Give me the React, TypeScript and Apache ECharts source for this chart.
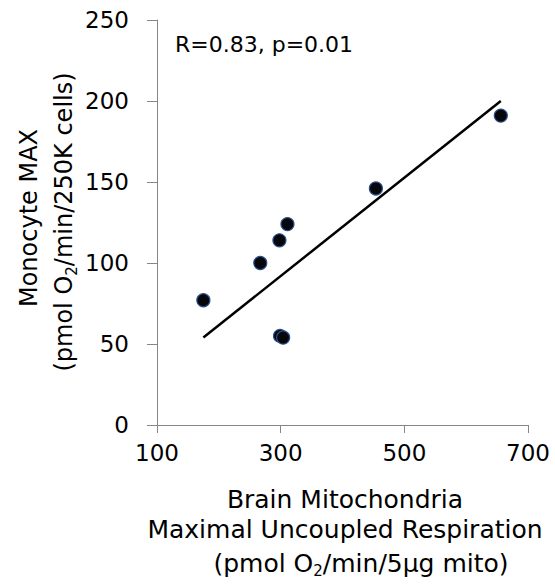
import React, { useEffect, useRef } from "react";
import * as echarts from "echarts";

const brainMax = [175, 267, 298, 311, 299, 304, 454, 656];
const monocyteMax = [77, 100, 114, 124, 55, 54, 146, 191];
const trendX = [175, 656];
const trendY = [54, 200];
const xTicks = { min: 100, max: 700, interval: 200 };
const yTicks = { min: 0, max: 250, interval: 50 };
const annotation = "R=0.83, p=0.01";
const yTitle1 = "Monocyte MAX";
const yTitle2 = ["(pmol O", "2", "/min/250K cells)"];
const xTitle1 = "Brain Mitochondria";
const xTitle2 = "Maximal Uncoupled Respiration";
const xTitle3 = ["(pmol O", "2", "/min/5µg mito)"];

const FONT = "'DejaVu Sans', sans-serif";
const FS = 23;
const TS = 25;
const YS = 24;
const AX = "#868686";

export default function App() {
  const ref = useRef<HTMLDivElement>(null);
  useEffect(() => {
    if (!ref.current) return;
    const chart = echarts.init(ref.current, undefined, { renderer: "svg" });
    const mkRich = (size: number) => ({
      a: { fontFamily: FONT, fontSize: size, color: "#000", lineHeight: 30 },
      s: { fontFamily: FONT, fontSize: 15, color: "#000", lineHeight: 30, verticalAlign: "bottom", padding: [13, 0, 0, 0] },
    });
    const plain = (text: string, size: number) => ({
      text,
      fontFamily: FONT,
      fontSize: size,
      fill: "#000",
      align: "center",
      verticalAlign: "middle",
      lineHeight: 30,
    });
    chart.setOption({
      animation: false,
      grid: { left: 157, right: 27, top: 20, bottom: 162 },
      xAxis: {
        type: "value",
        min: xTicks.min,
        max: xTicks.max,
        interval: xTicks.interval,
        splitLine: { show: false },
        axisLine: { lineStyle: { color: AX, width: 1 } },
        axisTick: { show: true, length: 8, lineStyle: { color: AX } },
        axisLabel: { fontFamily: FONT, fontSize: FS, color: "#000", margin: 16 },
      },
      yAxis: {
        type: "value",
        min: yTicks.min,
        max: yTicks.max,
        interval: yTicks.interval,
        splitLine: { show: false },
        axisLine: { show: true, lineStyle: { color: AX, width: 1 } },
        axisTick: { show: true, length: 10, lineStyle: { color: AX } },
        axisLabel: { fontFamily: FONT, fontSize: FS, color: "#000", margin: 28 },
      },
      series: [
        {
          type: "line",
          data: trendX.map((x, i) => [x, trendY[i]]),
          symbol: "none",
          lineStyle: { color: "#000", width: 2.5 },
          z: 2,
        },
        {
          type: "scatter",
          data: brainMax.map((x, i) => [x, monocyteMax[i]]),
          symbolSize: 13,
          itemStyle: { color: "#05070d", borderColor: "#2b4f86", borderWidth: 1.2, opacity: 1 },
          z: 3,
        },
      ],
      graphic: [
        {
          type: "text",
          x: 175,
          y: 44,
          style: { text: annotation, fontFamily: FONT, fontSize: 22, fill: "#000", align: "left", verticalAlign: "middle" },
        },
        {
          type: "text",
          x: 29,
          y: 218,
          rotation: Math.PI / 2,
          style: plain(yTitle1, YS),
        },
        {
          type: "text",
          x: 64,
          y: 222,
          rotation: Math.PI / 2,
          style: {
            text: `{a|${yTitle2[0]}}{s|${yTitle2[1]}}{a|${yTitle2[2]}}`,
            rich: mkRich(YS),
            align: "center",
            verticalAlign: "middle",
          },
        },
        { type: "text", x: 345, y: 514.5, style: plain(`${xTitle1}\n${xTitle2}`, TS) },
        {
          type: "text",
          x: 361,
          y: 563,
          style: {
            text: `{a|${xTitle3[0]}}{s|${xTitle3[1]}}{a|${xTitle3[2]}}`,
            rich: mkRich(TS),
            align: "center",
            verticalAlign: "middle",
          },
        },
      ],
    });
    return () => chart.dispose();
  }, []);
  return <div ref={ref} style={{ width: 555, height: 587, position: "absolute", left: 0, top: 0 }} />;
}
